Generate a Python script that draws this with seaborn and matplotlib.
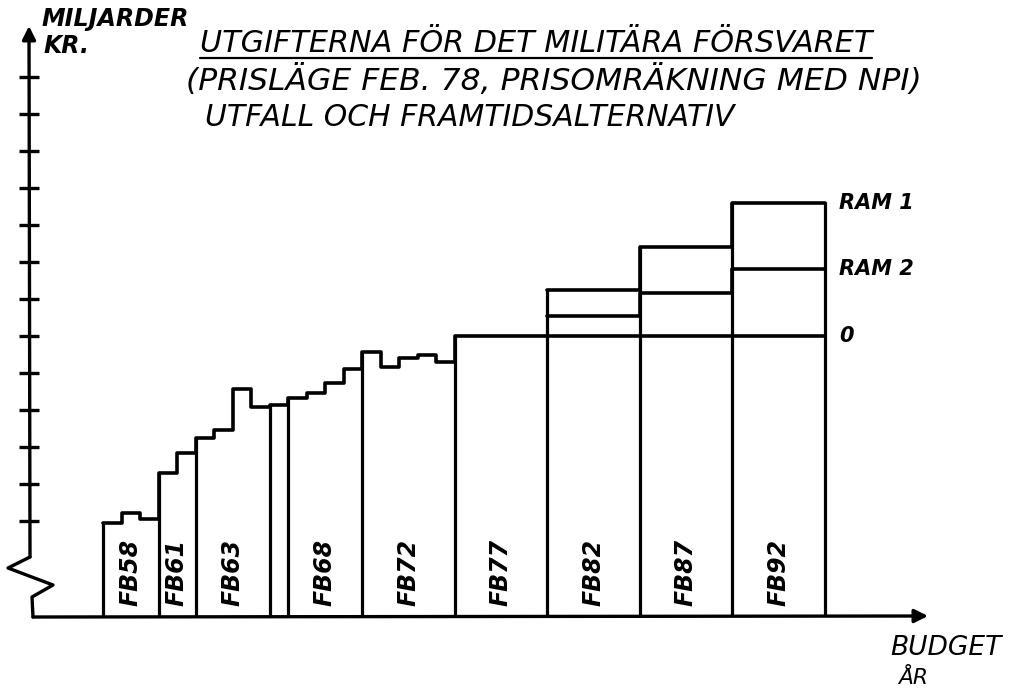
import numpy as np
import pandas as pd
import matplotlib
matplotlib.use("Agg")
import matplotlib.pyplot as plt
import seaborn as sns
from matplotlib.lines import Line2D

# ---------------- data ----------------
utfall_years = list(range(1958, 1982))
utfall_values = [4.95, 5.22, 5.05,              # FB58
                 6.30, 6.84,                    # FB61
                 7.24, 7.46, 8.57, 8.08,        # FB63
                 8.14,                          # 1967
                 8.32, 8.46, 8.73, 9.11,        # FB68
                 9.57, 9.16, 9.41, 9.49, 9.30,  # FB72
                 10.0, 10.0, 10.0, 10.0, 10.0]  # FB77
alt_years = [1982, 1987, 1992]
ram1_values = [11.25, 12.4, 13.6]
ram2_values = [10.55, 11.15, 11.8]
alt0_values = [10.0, 10.0, 10.0]
alt_names = ["RAM 1", "RAM 2", "0"]
end_year = 1997
fb_starts = [1958, 1961, 1963, 1967, 1968, 1972, 1977, 1982, 1987, 1992]
fb_labels = ["FB58", "FB61", "FB63", "", "FB68", "FB72", "FB77", "FB82", "FB87", "FB92"]
ytick_values = list(range(5, 18))

title_lines = ["UTGIFTERNA FÖR DET MILITÄRA FÖRSVARET",
               "(PRISLÄGE FEB. 78, PRISOMRÄKNING MED NPI)",
               "UTFALL OCH FRAMTIDSALTERNATIV"]
ylabel_lines = ["MILJARDER", "KR."]
xlabel_lines = ["BUDGET", "ÅR"]

# ---------------- style ----------------
sns.set_style("white")
plt.rcParams['font.family'] = ['DejaVu Sans']
FONT = dict(style='italic', color='black')
LW = 2.6

W, H = 1020, 689
fig = plt.figure(figsize=(W / 100, H / 100), dpi=100)
# axes box in pixels: left 29, right 930, top 30, bottom 617
L, R, T, B = 29, 930, 30, 617
ax = fig.add_axes([L / W, 1 - B / H, (R - L) / W, (B - T) / H])
px_per_year = 18.5
px_per_unit = 37.0
ax.set_xlim(1958 - (103 - L) / px_per_year, 1958 + (R - 103) / px_per_year)
ax.set_ylim(10 - (B - 336) / px_per_unit, 10 + (336 - T) / px_per_unit)
for s in ax.spines.values():
    s.set_visible(False)
ax.set_xticks([])
ax.set_yticks(ytick_values)
ax.tick_params(axis='y', direction='inout', length=15, width=2.4, left=True,
               labelleft=False, color='black')
ax.set_facecolor('white')
base = ax.get_ylim()[0]

# ---------------- series (step lines) ----------------
series = [(utfall_years + [alt_years[0]], utfall_values + [utfall_values[-1]])]
for vals in (ram1_values, ram2_values, alt0_values):
    series.append((alt_years + [end_year], vals + [vals[-1]]))

for xs, ys in series:
    df = pd.DataFrame({"year": xs, "value": ys})
    sns.lineplot(data=df, x="year", y="value", drawstyle="steps-post",
                 color="black", lw=LW, ax=ax, solid_joinstyle='round',
                 solid_capstyle='round')


def step_val(xs, ys, t):
    for i in range(len(xs) - 1):
        if xs[i] <= t < xs[i + 1]:
            return ys[i]
    return np.nan


# vertical dividers up to the top of the steps
div_years = fb_starts + [end_year]
tops = []
for yv in div_years:
    cands = []
    for xs, ys in series:
        cands += [step_val(xs, ys, yv), step_val(xs, ys, yv - 1e-6)]
    tops.append(np.nanmax(cands))
ax.vlines(div_years, base, tops, colors="black", lw=LW - 0.3, capstyle='round')

# FB labels
bounds = fb_starts + [end_year]
for i, lab in enumerate(fb_labels):
    if not lab:
        continue
    mid = (bounds[i] + bounds[i + 1]) / 2
    ax.text(mid, 3.62, lab, rotation=90, ha='center', va='center',
            fontsize=17, fontweight='bold', **FONT)

# alternative labels
for name, vals in zip(alt_names, (ram1_values, ram2_values, alt0_values)):
    ax.text(end_year + 0.8, vals[-1], name, ha='left', va='center',
            fontsize=15, fontweight='bold', **FONT)

# ---------------- axes lines (broken y axis with arrows) ----------------
def fx(px):
    return (px - L) / (R - L)


def fy(py):
    return (B - py) / (B - T)


arrow = dict(arrowstyle='-|>', lw=2.4, color='black', mutation_scale=20,
             shrinkA=0, shrinkB=0)
ax.annotate("", xy=(fx(29), fy(26)), xytext=(fx(30), fy(557)),
            xycoords='axes fraction', textcoords='axes fraction',
            arrowprops=arrow, annotation_clip=False)
ax.annotate("", xy=(fx(928), fy(616)), xytext=(fx(33), fy(617)),
            xycoords='axes fraction', textcoords='axes fraction',
            arrowprops=arrow, annotation_clip=False)
zz_x = [fx(p) for p in (30, 8, 53, 32, 33)]
zz_y = [fy(p) for p in (557, 568, 585, 597, 617)]
ax.add_line(Line2D(zz_x, zz_y, transform=ax.transAxes, color='black', lw=2.4,
                   clip_on=False, solid_joinstyle='round'))

# ---------------- texts ----------------
def fig_text(px, py, s, size, **kw):
    return fig.text(px / W, 1 - py / H, s, fontsize=size, ha='left', va='center',
                    **FONT, **kw)


t1 = fig_text(200, 44, title_lines[0], 17)
t2 = fig_text(186, 80, title_lines[1], 17)
t3 = fig_text(205, 118, title_lines[2], 17)
y1 = fig_text(42, 19, ylabel_lines[0], 14, fontweight='bold')
y2 = fig_text(44, 46, ylabel_lines[1], 14, fontweight='bold')
x1 = fig_text(890, 648, xlabel_lines[0], 15)
x2 = fig_text(898, 678, xlabel_lines[1], 15)

fig.canvas.draw()
r = fig.canvas.get_renderer()
for t, target in ((t1, 672), (t2, 735), (t3, 530), (y1, 148), (y2, 46), (x1, 112), (x2, 30)):
    w = t.get_window_extent(r).width
    t.set_fontsize(t.get_fontsize() * target / w)
fig.canvas.draw()
bb = t1.get_window_extent(r)
fig.add_artist(Line2D([bb.x0 / W, bb.x1 / W], [(bb.y0 + 1) / H, (bb.y0 + 1) / H],
                      transform=fig.transFigure, color='black', lw=1.6))

fig.savefig("out.png", dpi=100, facecolor='white')
